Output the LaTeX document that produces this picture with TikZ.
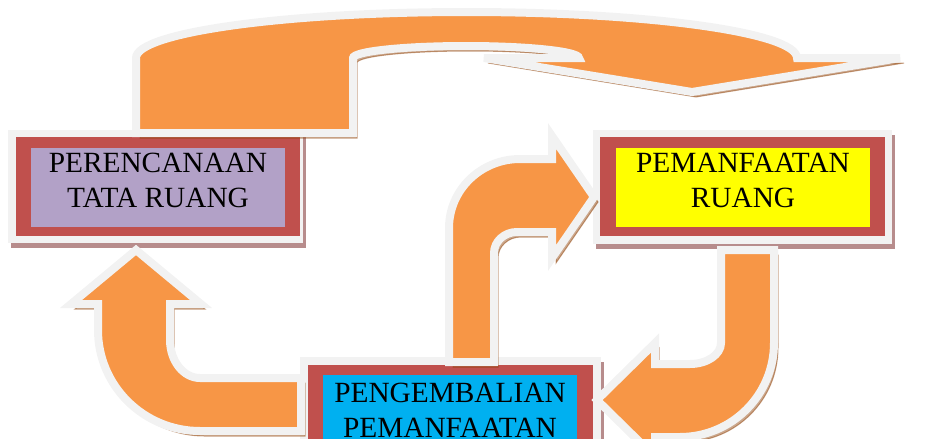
\documentclass[tikz,border=0pt]{standalone}
\usepackage{fontspec}
\setmainfont{Liberation Serif}
\usetikzlibrary{shadows}

\definecolor{frameRed}{HTML}{C0504D}
\definecolor{glowGray}{HTML}{F2F2F2}
\definecolor{planPurple}{HTML}{B2A1C7}
\definecolor{useYellow}{HTML}{FFFF00}
\definecolor{controlBlue}{HTML}{00B0F0}
\definecolor{arrowOrange}{HTML}{F79646}
\definecolor{arrowShade}{RGB}{140,60,0}
\definecolor{boxShade}{RGB}{183,140,140}

\tikzset{every picture/.style={line width=0.75pt}}
\tikzset{
	boxglow/.style={fill=glowGray, drop shadow={shadow xshift=2.25pt, shadow yshift=-3.75pt, fill=boxShade, opacity=1}},
	boxframe/.style={fill=frameRed},
	boxtext/.style={anchor=north, inner sep=0pt, align=center, font=\fontsize{22pt}{26.25pt}\selectfont},
	bigarrow/.style={fill=arrowOrange, draw=glowGray, line width=6pt,
		drop shadow={shadow xshift=3pt, shadow yshift=-3.75pt, fill=arrowShade, draw=arrowShade, opacity=0.45}}
}

\begin{document}
\begin{tikzpicture}[x=0.75pt,y=0.75pt,yscale=-1,xscale=1]
	\useasboundingbox (0,0) rectangle (926,439);

	%Rectangle: perencanaan
	\fill[boxglow] (8,130) rectangle (303,243);
	\fill[boxframe] (16,137) rectangle (300,236);
	\fill[planPurple] (31,148) rectangle (285,227);
	%Rectangle: pemanfaatan
	\fill[boxglow] (593,130) rectangle (892,244);
	\fill[boxframe] (600,137) rectangle (885,236);
	\fill[useYellow] (616,148) rectangle (870,227);
	%Rectangle: pengembalian
	\fill[boxglow] (300,357) rectangle (601,472);
	\fill[boxframe] (308,365) rectangle (593,464);
	\fill[controlBlue] (323,375) rectangle (577,454);

	% Text Node
	\node[boxtext] (plan) at (158,153) {PERENCANAAN\\TATA RUANG};
	% Text Node
	\node[boxtext] (use) at (743,153) {PEMANFAATAN\\RUANG};
	% Text Node
	\node[boxtext] (control) at (450,383) {PENGEMBALIAN\\PEMANFAATAN};

	%U-Turn Arrow: plan -> use
	\path[bigarrow] (136,133) -- (136,58) arc[start angle=180, end angle=360, x radius=330.5, y radius=46] -- (900,58) -- (692,92) -- (484,58) -- (579,58) arc[start angle=0, end angle=-180, x radius=113, y radius=12] -- (353,133) -- cycle;
	%Bent Arrow: control -> use
	\path[bigarrow] (449,362) -- (449,228) arc[start angle=180, end angle=270, x radius=71, y radius=69] -- (552,159) -- (552,136) -- (594,197) -- (552,258) -- (552,232) -- (517,232) arc[start angle=270, end angle=180, x radius=23, y radius=21] -- (494,362) -- cycle;
	%Bent Arrow: use -> control
	\path[bigarrow] (721,250) -- (774,250) -- (774,343) arc[start angle=0, end angle=90, x radius=94, y radius=94] -- (655,437) -- (655,457) -- (597,400) -- (655,343) -- (655,364) -- (690,364) arc[start angle=90, end angle=0, x radius=31, y radius=21] -- cycle;
	%Bent Arrow: control -> plan
	\path[bigarrow] (301,378) -- (200,378) arc[start angle=90, end angle=180, x radius=30, y radius=38] -- (170,304) -- (201,304) -- (136,250) -- (71,304) -- (98,304) -- (98,330) arc[start angle=180, end angle=90, x radius=102, y radius=101] -- (301,431) -- cycle;

\end{tikzpicture}
\end{document}
